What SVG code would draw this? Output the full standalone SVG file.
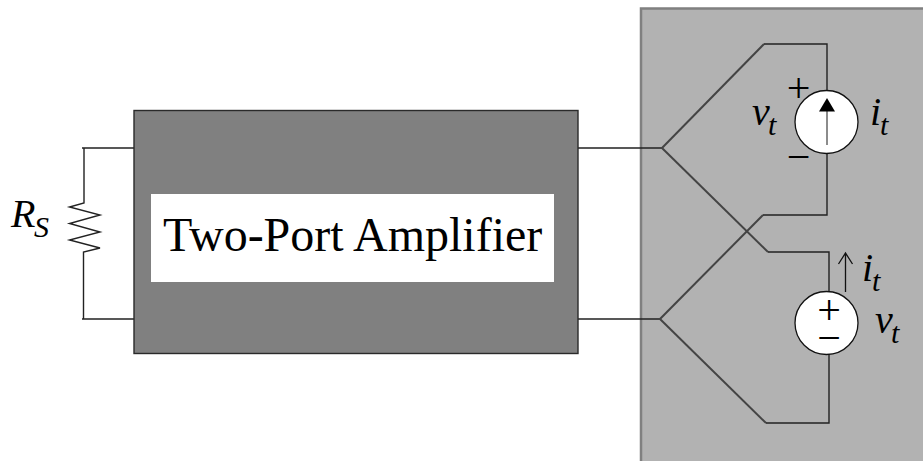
<svg xmlns="http://www.w3.org/2000/svg" width="923" height="461" viewBox="0 0 923 461">
<style>
.w{fill:none;stroke:#222;stroke-width:1.4}
.t{fill:none;stroke:#444;stroke-width:2}
.c{fill:#fff;stroke:#111;stroke-width:1.3}
text{font-family:"Liberation Serif","Times New Roman",serif;fill:#000}
.i{font-style:italic;font-size:40px}
.s{font-style:italic;font-size:30px}
.p{font-size:42px;text-anchor:middle}
</style>
<rect width="923" height="461" fill="#fff"/>
<g id="test-panel"><rect x="641" y="8.500" width="290" height="460" fill="#b2b2b2" stroke="#808080" stroke-width="2.500"/></g>
<g id="connectors">
<path class="w" d="M82 148H134M82 319H134M84 148V203L69.500 207L100 215L69.500 223.500L100 232L69.500 240L100 248L83.500 252V319"/>
<path class="w" d="M578 148H662M578 319H660"/>
<path class="t" d="M662 148L764 44"/><path class="t" d="M662 148L768 252"/>
<path class="t" d="M660 319L763 215"/><path class="t" d="M660 319L766 423"/>
<path class="w" d="M764 44H827V91M827 153V215H763"/>
<path class="w" d="M768 252H829V292M829 354V423H766"/>
</g>
<g id="amplifier">
<rect x="134" y="110.500" width="444" height="243" fill="#808080" stroke="#2a2a2a" stroke-width="1.400"/>
<rect x="151" y="194" width="403" height="88" fill="#fff"/>
<text x="163" y="251" font-size="48">Two-Port Amplifier</text>
</g>
<g id="rs-label"><text class="i" x="11" y="227">R</text><text class="s" x="34" y="237">S</text></g>
<g id="current-source">
<circle class="c" cx="826.500" cy="122" r="31.500"/>
<path d="M827 145V108" fill="none" stroke="#666" stroke-width="1.500"/>
<path d="M819 111.500L827 98L835 111.500Z" fill="#000"/>
<text class="p" x="798.500" y="102">+</text>
<text class="p" x="798.500" y="171">−</text>
<text class="i" x="752" y="125">v</text><text class="s" x="768" y="135">t</text>
<text class="i" x="870" y="125">i</text><text class="s" x="880" y="135">t</text>
</g>
<g id="voltage-source">
<circle class="c" cx="826.500" cy="323" r="31.500"/>
<text class="p" x="829" y="324">+</text>
<text class="p" x="829" y="352">−</text>
<path d="M845.500 292V253M838.500 264L845.500 253L852.500 264" fill="none" stroke="#111" stroke-width="1.300"/>
<text class="i" x="862" y="281">i</text><text class="s" x="872" y="291">t</text>
<text class="i" x="875" y="333">v</text><text class="s" x="891" y="343">t</text>
</g>
</svg>
